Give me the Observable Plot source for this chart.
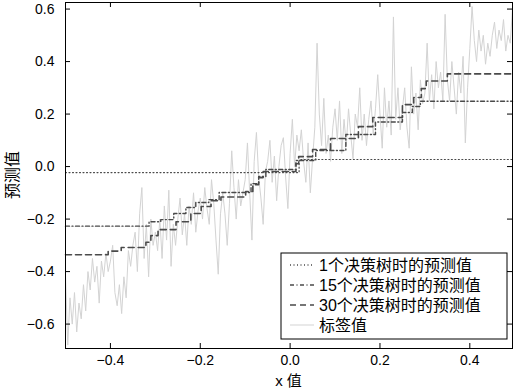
<!DOCTYPE html>
<html><head><meta charset="utf-8">
<script src="https://cdn.jsdelivr.net/npm/d3@7"></script>
<script src="https://cdn.jsdelivr.net/npm/@observablehq/plot@0.6"></script>
<style>
body{margin:0;background:#fff}
#chart{position:relative;width:514px;height:390px}
</style>
</head><body><div id="chart"></div>
<script>
// label values (sampled every 0.005 from -0.5)
const labelStart = -0.5, labelStep = 0.005;
const labelValues = [
 -0.42,-0.68,-0.50,-0.60,-0.48,-0.63,-0.52,-0.58,-0.45,-0.55,
 -0.40,-0.47,-0.35,-0.44,-0.38,-0.52,-0.36,-0.42,-0.33,-0.40,
 -0.36,-0.30,-0.48,-0.53,-0.45,-0.56,-0.42,-0.50,-0.32,-0.38,
 -0.30,-0.25,-0.40,-0.18,-0.08,-0.35,-0.22,-0.42,-0.20,-0.30,
 -0.25,-0.32,-0.20,-0.35,-0.15,-0.28,-0.09,-0.38,-0.22,-0.30,
 -0.20,-0.12,-0.26,-0.18,-0.30,-0.15,-0.22,-0.10,-0.25,-0.17,
 -0.12,-0.20,-0.08,-0.16,-0.22,-0.05,-0.14,-0.28,-0.41,-0.18,
 -0.10,-0.18,-0.30,-0.14, 0.06,-0.08,-0.20,-0.05,-0.15,-0.10,
 -0.05, 0.09,-0.10,-0.28, 0.02, 0.13,-0.04,-0.12,-0.22,-0.02,
  0.02, 0.10,-0.06, 0.04,-0.13, 0.00, 0.08, 0.11,-0.04,-0.16,
  0.05, 0.18, 0.00, 0.12, 0.06, 0.14, 0.02,-0.06, 0.09,-0.10,
  0.03, 0.15, 0.47, 0.20, 0.08, 0.26, 0.05, 0.12, 0.02, 0.15,
  0.22, 0.10, 0.25, 0.05, 0.18, 0.08, 0.22, 0.12, 0.03, 0.20,
  0.15, 0.30, 0.10, 0.20, 0.08, 0.18, 0.25, 0.12, 0.22, 0.35,
  0.20, 0.07, 0.30, 0.15, 0.25, 0.12, 0.57, 0.18, 0.30, 0.14,
  0.22, 0.30, 0.15, 0.07, 0.38, 0.20, 0.28, 0.14, 0.33, 0.24,
  0.28, 0.47, 0.25, 0.35, 0.22, 0.40, 0.30, 0.36, 0.25, 0.58,
  0.33, 0.25, 0.40, 0.30, 0.20, 0.36, 0.28, 0.42, 0.09, 0.30,
  0.45, 0.61, 0.48, 0.40, 0.52, 0.44, 0.50, 0.39, 0.47, 0.42,
  0.50, 0.55, 0.45, 0.52, 0.48, 0.56, 0.44, 0.50, 0.47, 0.60
];
// step predictions: segment start x and value
const tree1X = [-0.5, 0.02, 0.495];
const tree1Y = [-0.023, 0.027, 0.027];
const tree15X = [-0.5,-0.314,-0.288,-0.259,-0.232,-0.21,-0.181,-0.158,-0.087,-0.07,-0.054,0.013,0.057,0.124,0.19,0.25,0.272,0.29,0.495];
const tree15Y = [-0.227,-0.21,-0.202,-0.179,-0.156,-0.137,-0.126,-0.099,-0.065,-0.038,-0.011,0.023,0.061,0.122,0.17,0.206,0.229,0.249,0.249];
const tree30X = [-0.5,-0.405,-0.376,-0.321,-0.310,-0.294,-0.254,-0.221,-0.198,-0.176,-0.154,-0.099,-0.083,-0.07,-0.06,0.013,0.019,0.05,0.09,0.152,0.184,0.25,0.275,0.292,0.303,0.35,0.495];
const tree30Y = [-0.336,-0.322,-0.308,-0.288,-0.263,-0.240,-0.21,-0.179,-0.152,-0.13,-0.116,-0.095,-0.069,-0.042,-0.019,0.011,0.038,0.065,0.107,0.152,0.187,0.236,0.263,0.297,0.326,0.353,0.353];
const xTicks = [-0.4,-0.2,0.0,0.2,0.4];
const yTicks = [-0.6,-0.4,-0.2,0.0,0.2,0.4,0.6];
const legendLabels = ["1个决策树时的预测值","15个决策树时的预测值","30个决策树时的预测值","标签值"];

const labels = labelValues.map((v,i)=>({x: labelStart + i*labelStep, y: v}));
const mk = (X,Y)=>X.map((x,i)=>({x, y: Y[i]}));
const s1 = mk(tree1X,tree1Y), s15 = mk(tree15X,tree15Y), s30 = mk(tree30X,tree30Y);

const W=514,H=390, mL=65, mR=2, mT=2, mB=42;
const iw = W-mL-mR, ih = H-mT-mB;
const fmt = d3.format(".1f");
const predColor = "#4a4a4a";
const styles = [
  {dash:"1,2.5", color:predColor},
  {dash:"4,2.5,1,2.5", color:predColor},
  {dash:"6,4", color:predColor},
  {dash:null, color:"#d3d3d3"}
];
const FONT = "'Liberation Sans','Noto Sans CJK SC',sans-serif";

const chart = Plot.plot({
  width: W, height: H,
  marginLeft: mL, marginRight: mR, marginTop: mT, marginBottom: mB,
  style: {fontFamily: FONT, fontSize: "14px", background: "#fff", color: "#000"},
  x: {domain: [-0.5, 0.495]},
  y: {domain: [-0.693, 0.625]},
  marks: [
    Plot.line(labels, {x:"x", y:"y", stroke: styles[3].color, strokeWidth: 1}),
    Plot.line(s1, {x:"x", y:"y", curve:"step-after", stroke: predColor, strokeWidth: 1.2, strokeDasharray: styles[0].dash}),
    Plot.line(s15, {x:"x", y:"y", curve:"step-after", stroke: predColor, strokeWidth: 1.4, strokeDasharray: styles[1].dash}),
    Plot.line(s30, {x:"x", y:"y", curve:"step-after", stroke: predColor, strokeWidth: 1.6, strokeDasharray: styles[2].dash}),
    Plot.tickX(xTicks, {x: d=>d, insetTop: ih-5, stroke:"#000"}),
    Plot.tickX(xTicks, {x: d=>d, insetBottom: ih-5, stroke:"#000"}),
    Plot.tickY(yTicks, {y: d=>d, insetRight: iw-5, stroke:"#000"}),
    Plot.tickY(yTicks, {y: d=>d, insetLeft: iw-5, stroke:"#000"}),
    Plot.axisX(xTicks, {tickSize: 0, tickPadding: 7, tickFormat: fmt, fontSize: 14, label: null}),
    Plot.axisY(yTicks, {tickSize: 0, tickPadding: 11, tickFormat: fmt, fontSize: 14, label: null}),
    Plot.frame({stroke: "#000", strokeWidth: 1})
  ]
});
document.getElementById("chart").appendChild(chart);

// axis titles and legend
const svg = d3.select(chart);
svg.append("text").attr("x", mL + iw/2).attr("y", 386).attr("text-anchor","middle")
  .style("font-size","15px").style("font-family",FONT).text("x 值");
svg.append("text").attr("transform", `translate(18,${mT+ih/2}) rotate(-90)`).attr("text-anchor","middle")
  .style("font-size","16px").style("font-family","'Noto Sans CJK SC',sans-serif").text("预测值");

const lg = svg.append("g").attr("transform","translate(281,253)");
lg.append("rect").attr("width",226).attr("height",86).attr("fill","#fff").attr("stroke","#000").attr("stroke-width",1);
legendLabels.forEach((t,i)=>{
  const yy = 12 + i*20;
  lg.append("line").attr("x1",9).attr("x2",33).attr("y1",yy).attr("y2",yy)
    .attr("stroke",styles[i].color).attr("stroke-width", i===3?1:1.4)
    .attr("stroke-dasharray", styles[i].dash);
  lg.append("text").attr("x",38).attr("y",yy).attr("dy","0.35em").attr("text-anchor","start")
    .style("font-size","16px").style("font-family",FONT).text(t);
});
</script>
</body></html>
